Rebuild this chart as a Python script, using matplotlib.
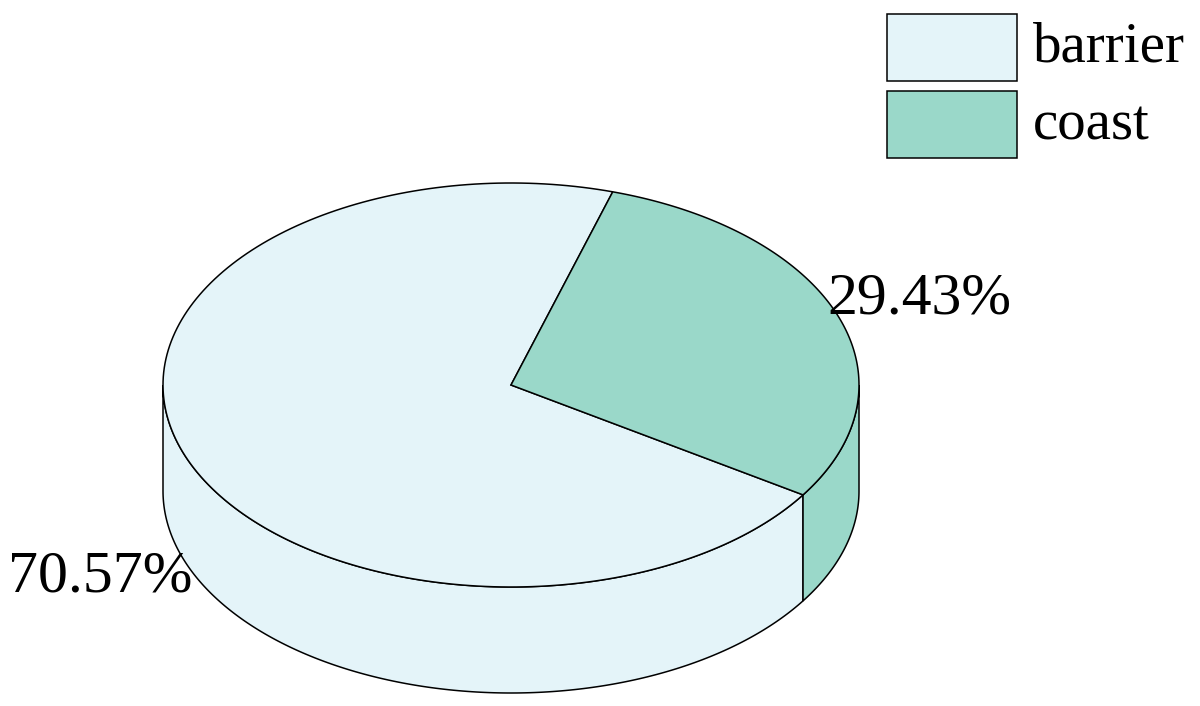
import numpy as np
import matplotlib.pyplot as plt
from matplotlib.patches import Polygon, Rectangle

# data
categories = ["barrier", "coast"]
values = [70.57, 29.43]
colors = ["#E4F4F9", "#9AD8C9"]
labels = ["70.57%", "29.43%"]

plt.rcParams['font.family'] = ['Liberation Serif', 'DejaVu Serif']

# pie geometry (pixel space, y down)
CX, CY = 511, 385
RX, RY = 348, 202
DEPTH = 106
START = 73.0


def pt(t, dy=0):
    t = np.radians(t)
    return CX + RX * np.cos(t), CY - RY * np.sin(t) + dy


def arc(a, b, dy=0, n=200):
    ts = np.linspace(a, b, n)
    return [pt(t, dy) for t in ts]


fig = plt.figure(figsize=(12, 7.06), dpi=100)
ax = fig.add_axes([0, 0, 1, 1])
ax.set_xlim(0, 1200)
ax.set_ylim(706, 0)
ax.axis("off")

total = sum(values)
spans = []
a = START
for v in values:
    b = a + v / total * 360
    spans.append((a, b))
    a = b

# side walls (front half only, 180..360)
for (a, b), c in zip(spans, colors):
    for off in (0, 360, -360):
        lo = max(a + off, 180)
        hi = min(b + off, 360)
        if hi > lo:
            poly = arc(lo, hi) + arc(hi, lo, DEPTH)
            ax.add_patch(Polygon(poly, closed=True, facecolor=c,
                                 edgecolor="black", lw=1.1, zorder=1))

# top slices
for (a, b), c in zip(spans, colors):
    poly = [(CX, CY)] + arc(a, b)
    ax.add_patch(Polygon(poly, closed=True, facecolor=c,
                         edgecolor="black", lw=1.1, zorder=2))

# value labels
ax.text(100, 577, labels[0], fontsize=43, ha="center", va="center", zorder=3)
ax.text(919, 300, labels[1], fontsize=43, ha="center", va="center", zorder=3)

# legend
box_y = [14, 91]
for y, c, name in zip(box_y, colors, categories):
    ax.add_patch(Rectangle((887, y), 130, 67, facecolor=c,
                           edgecolor="black", lw=1.1))
    ax.text(1033, y + 34, name, fontsize=41, ha="left", va="center")

fig.savefig("out.png", dpi=100)
